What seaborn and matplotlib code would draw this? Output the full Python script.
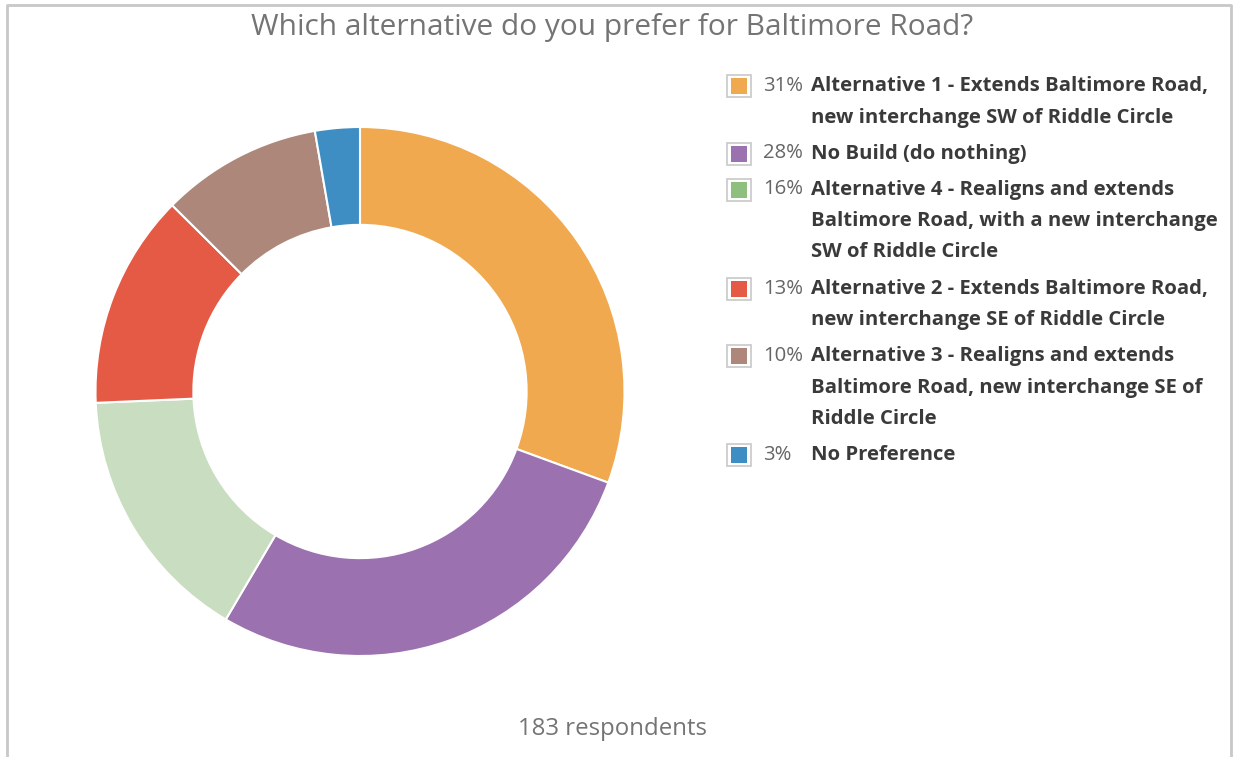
import matplotlib
matplotlib.use('Agg')
import matplotlib.pyplot as plt
import seaborn as sns
from matplotlib.patches import Rectangle

# survey answers (183 respondents)
labels = [
    'Alternative 1 - Extends Baltimore Road,\nnew interchange SW of Riddle Circle',
    'No Build (do nothing)',
    'Alternative 4 - Realigns and extends\nBaltimore Road, with a new interchange\nSW of Riddle Circle',
    'Alternative 2 - Extends Baltimore Road,\nnew interchange SE of Riddle Circle',
    'Alternative 3 - Realigns and extends\nBaltimore Road, new interchange SE of\nRiddle Circle',
    'No Preference',
]
counts = [56, 51, 29, 24, 18, 5]
pct_labels = ['31%', '28%', '16%', '13%', '10%', '3%']
slice_colors = ['#f0a94e', '#9b71b0', '#c9ddc0', '#e45a45', '#ad8779', '#3e8ec4']
legend_colors = ['#f0a94e', '#9b71b0', '#8fbf7f', '#e45a45', '#ad8779', '#3e8ec4']
n_respondents = 183

sns.set_style('white')
plt.rcParams['font.family'] = ['Open Sans', 'DejaVu Sans']

W, H = 1233, 757
fig = plt.figure(figsize=(W / 100, H / 100), dpi=100)
fig.patch.set_facecolor('white')

# panel border (top, left, right)
fig.add_artist(plt.Line2D([7 / W, 7 / W, 1231 / W, 1231 / W],
                          [0, 1 - 5 / H, 1 - 5 / H, 0],
                          color='#c8c8c8', linewidth=2, transform=fig.transFigure))

# donut
cx, cy, r = 360, 391.5, 264.5
ax = fig.add_axes([(cx - r) / W, (H - cy - r) / H, 2 * r / W, 2 * r / H])
ax.pie(counts, colors=slice_colors, startangle=90, counterclock=False,
       radius=1, wedgeprops=dict(width=0.37, edgecolor='white', linewidth=1.5))
ax.set_xlim(-1, 1)
ax.set_ylim(-1, 1)
ax.set_aspect('equal')
ax.axis('off')

fig.text(612 / W, 1 - 28 / H, 'Which alternative do you prefer for Baltimore Road?',
         ha='center', va='center', fontsize=21.5, color='#747474')
fig.text(612 / W, 1 - 729 / H, f'{n_respondents} respondents',
         ha='center', va='center', fontsize=17.3, color='#747474')

# legend
y = 86
line_h = 31.5
for lab, pct, col in zip(labels, pct_labels, legend_colors):
    fig.add_artist(Rectangle((727 / W, 1 - (y + 11) / H), 24 / W, 22 / H,
                             transform=fig.transFigure, facecolor='white',
                             edgecolor='#c8c8c8', linewidth=1.2))
    fig.add_artist(Rectangle((731 / W, 1 - (y + 8) / H), 16 / W, 16 / H,
                             transform=fig.transFigure, facecolor=col, edgecolor='none'))
    fig.text(763 / W, 1 - y / H, pct, ha='left', va='center', fontsize=14.6, color='#666666')
    lines = lab.split('\n')
    for i, ln in enumerate(lines):
        fig.text(811 / W, 1 - (y + i * line_h) / H, ln, ha='left', va='center',
                 fontsize=14.6, fontweight='bold', color='#3a3a3a')
    y += len(lines) * line_h + 4.5

fig.savefig('out.png', dpi=100, facecolor='white')
